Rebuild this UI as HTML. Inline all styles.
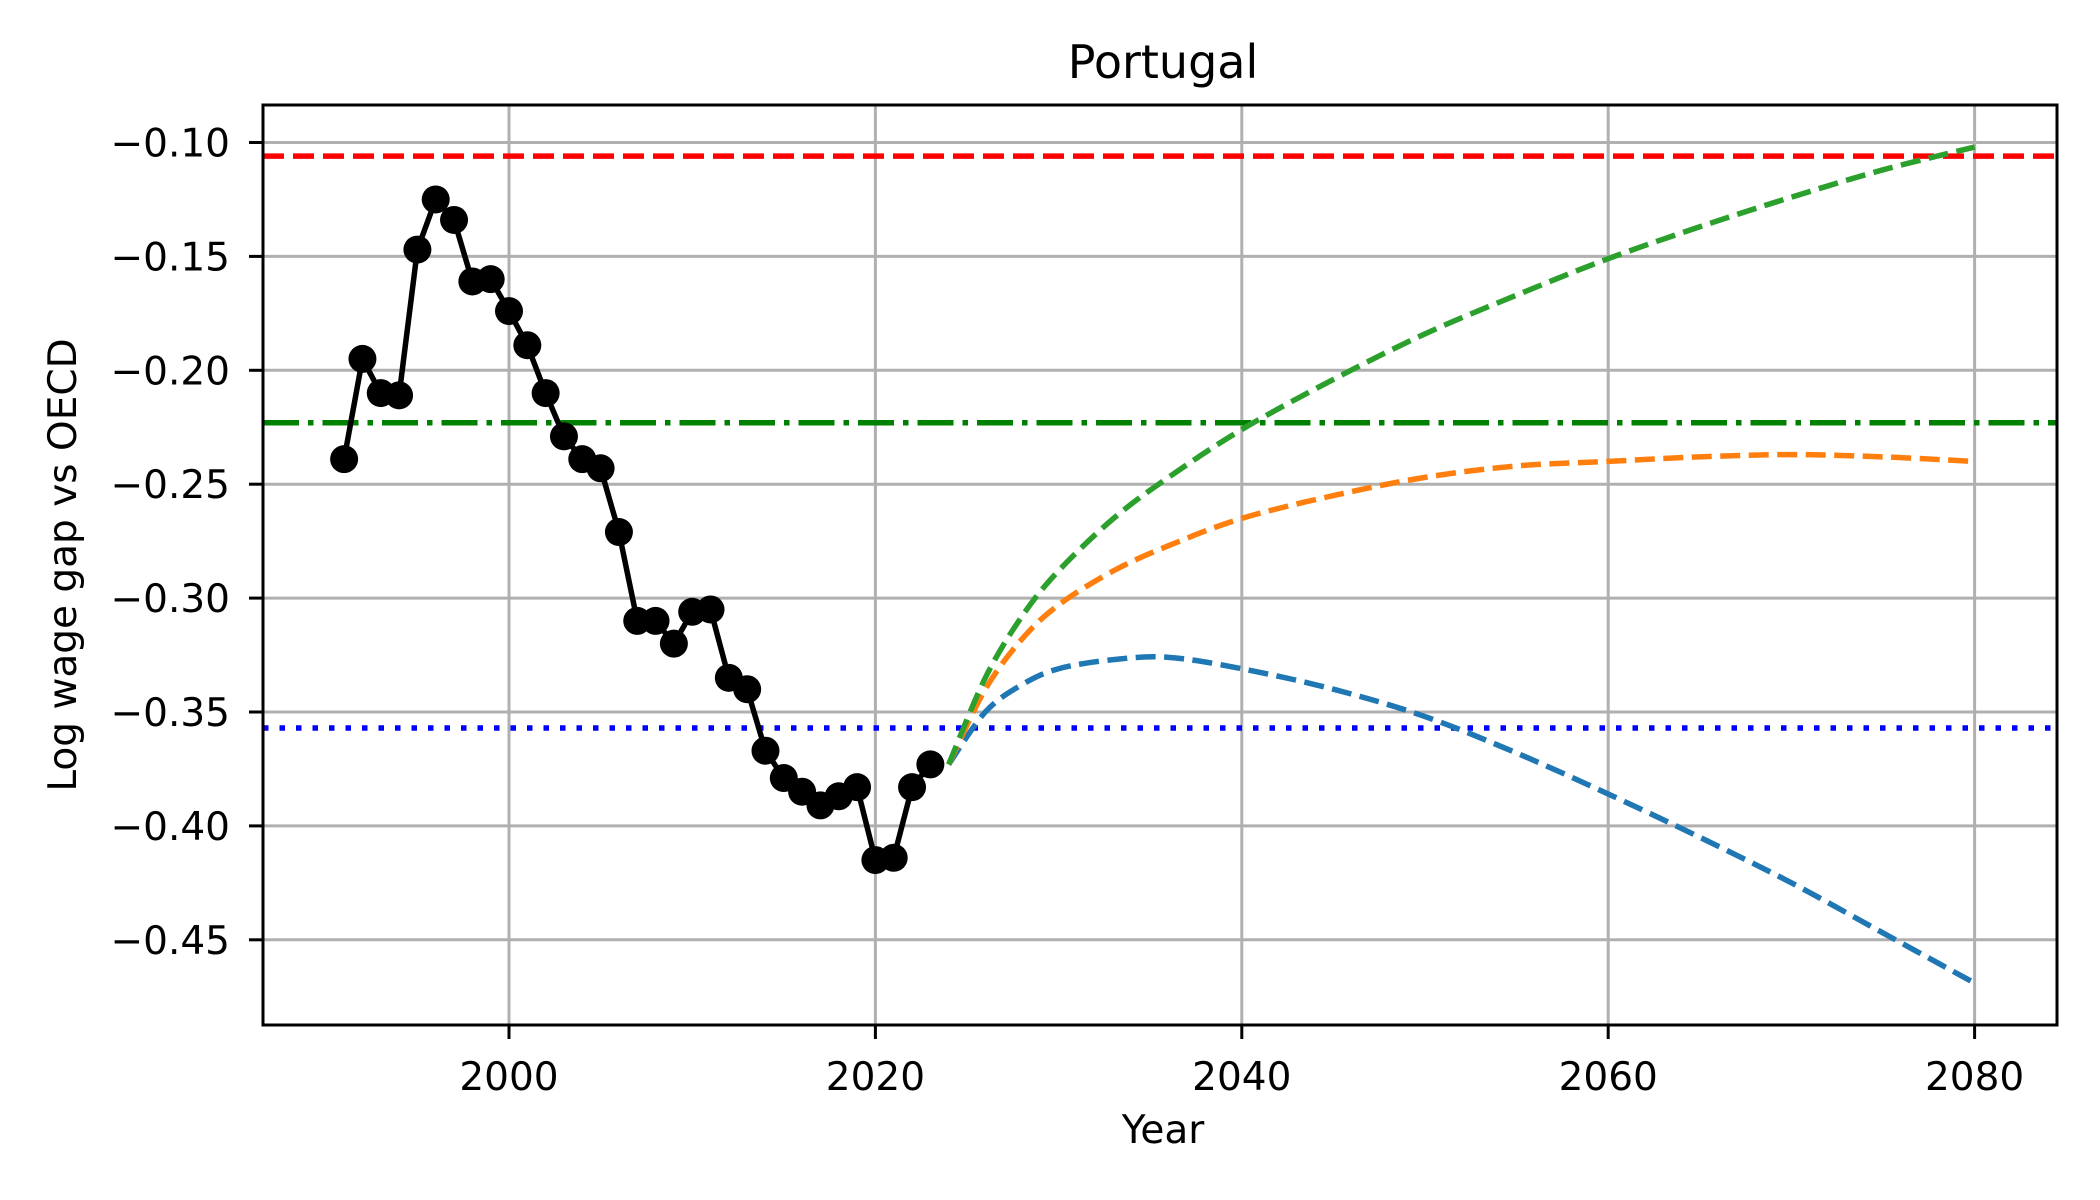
<!DOCTYPE html>
<html><head><meta charset="utf-8">
<style>
html,body{margin:0;padding:0;background:#fff;}
svg{display:block;font-family:"DejaVu Sans","Liberation Sans",sans-serif;}
</style></head>
<body>
<svg id="chart" width="2100" height="1200" viewBox="0 0 2100 1200">
<rect width="2100" height="1200" fill="#fff"/>
<g id="grid"></g>
<g id="refs"></g>
<g id="series"></g>
<rect x="263" y="105" width="1794" height="920" fill="none" stroke="#000" stroke-width="3"/>
<g id="ticks"></g>
<text x="1163" y="78" font-size="46" text-anchor="middle">Portugal</text>
<text x="1163" y="1143" font-size="39" text-anchor="middle">Year</text>
<text transform="translate(76,565) rotate(-90)" font-size="39" text-anchor="middle">Log wage gap vs OECD</text>
</svg>
<script>
const histYears=[1991,1992,1993,1994,1995,1996,1997,1998,1999,2000,2001,2002,2003,2004,2005,2006,2007,2008,2009,2010,2011,2012,2013,2014,2015,2016,2017,2018,2019,2020,2021,2022,2023];
const histValues=[-0.239,-0.195,-0.210,-0.211,-0.147,-0.125,-0.134,-0.161,-0.160,-0.174,-0.189,-0.210,-0.229,-0.239,-0.243,-0.271,-0.310,-0.310,-0.320,-0.306,-0.305,-0.335,-0.340,-0.367,-0.379,-0.385,-0.391,-0.387,-0.383,-0.415,-0.414,-0.383,-0.373];
const projYears=[2024,2026,2028,2030,2033,2036,2040,2045,2050,2055,2060,2065,2070,2075,2080];
const projGreen=[-0.373,-0.335,-0.308,-0.288,-0.265,-0.247,-0.226,-0.204,-0.184,-0.167,-0.151,-0.137,-0.124,-0.112,-0.102];
const projOrange=[-0.373,-0.340,-0.318,-0.303,-0.288,-0.277,-0.265,-0.255,-0.247,-0.242,-0.240,-0.238,-0.237,-0.238,-0.240];
const projBlue=[-0.373,-0.350,-0.338,-0.331,-0.327,-0.326,-0.331,-0.340,-0.352,-0.368,-0.386,-0.405,-0.425,-0.447,-0.469];
const refRed=-0.106, refGreen=-0.223, refBlue=-0.357;
const xTicks=[2000,2020,2040,2060,2080];
const yTicks=[-0.10,-0.15,-0.20,-0.25,-0.30,-0.35,-0.40,-0.45];

const L=263,R=2057,T=105,B=1025;
function X(v){return 509+(v-2000)*18.32;}
function Y(v){return 142.5+(-0.10-v)*2278;}
const NS='http://www.w3.org/2000/svg';
function mk(tag,attrs,parent){const e=document.createElementNS(NS,tag);for(const k in attrs)e.setAttribute(k,attrs[k]);parent.appendChild(e);return e;}
const grid=document.getElementById('grid'),refs=document.getElementById('refs'),series=document.getElementById('series'),ticks=document.getElementById('ticks');

xTicks.forEach(v=>{
  const g=mk('line',{x1:X(v),x2:X(v),y1:T,y2:B,stroke:'#b0b0b0','stroke-width':3},grid);
  
  
  const t=mk('line',{x1:X(v),x2:X(v),y1:B,y2:B+14,stroke:'#000','stroke-width':3},ticks);
  
  
  const s=mk('text',{x:X(v),y:1090,'font-size':39,'text-anchor':'middle'},ticks);
  s.textContent=String(v);
  
  
});
yTicks.forEach(v=>{
  const g=mk('line',{x1:L,x2:R,y1:Y(v),y2:Y(v),stroke:'#b0b0b0','stroke-width':3},grid);
  
  
  const t=mk('line',{x1:L-14,x2:L,y1:Y(v),y2:Y(v),stroke:'#000','stroke-width':3},ticks);
  
  
  const s=mk('text',{x:230,y:Y(v)+14,'font-size':39,'text-anchor':'end'},ticks);
  s.textContent='\u2212'+Math.abs(v).toFixed(2);
  
  
});

const r1=mk('line',{x1:L,x2:R,y1:Y(refRed),y2:Y(refRed),stroke:'#ff0000','stroke-width':5.5,'stroke-dasharray':'21 9'},refs);


const r2=mk('line',{x1:L,x2:R,y1:Y(refGreen),y2:Y(refGreen),stroke:'#008000','stroke-width':5.5,'stroke-dasharray':'36 9 5.5 9'},refs);


const r3=mk('line',{x1:L,x2:R,y1:Y(refBlue),y2:Y(refBlue),stroke:'#0000ff','stroke-width':5.5,'stroke-dasharray':'5.5 11'},refs);



function smoothPath(xs,ys){
  const p=xs.map((x,i)=>[X(x),Y(ys[i])]);
  let d='M'+p[0][0]+','+p[0][1];
  for(let i=0;i<p.length-1;i++){
    const p0=p[i-1]||p[i],p1=p[i],p2=p[i+1],p3=p[i+2]||p2;
    const c1=[p1[0]+(p2[0]-p0[0])/6,p1[1]+(p2[1]-p0[1])/6];
    const c2=[p2[0]-(p3[0]-p1[0])/6,p2[1]-(p3[1]-p1[1])/6];
    d+=' C'+c1+' '+c2+' '+p2;
  }
  return d;
}
[[projBlue,'#1f77b4','projection-blue'],[projOrange,'#ff7f0e','projection-orange'],[projGreen,'#2ca02c','projection-green']].forEach(([vals,c,n])=>{
  const e=mk('path',{d:smoothPath(projYears,vals),fill:'none',stroke:c,'stroke-width':5.5,'stroke-dasharray':'20 8.5'},series);
  
  
});

const hl=mk('polyline',{points:histYears.map((y,i)=>X(y)+','+Y(histValues[i])).join(' '),fill:'none',stroke:'#000','stroke-width':5.5,'stroke-linejoin':'round'},series);


histYears.forEach((y,i)=>{
  const c=mk('circle',{cx:X(y),cy:Y(histValues[i]),r:14,fill:'#000'},series);
  
  
});
</script>
</body></html>
